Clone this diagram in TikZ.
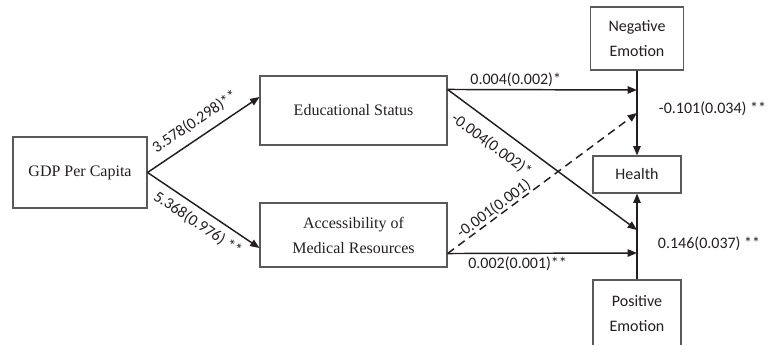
\documentclass[tikz,border=0pt]{standalone}
\usepackage{fontspec}
\setmainfont{Liberation Serif}
\newfontfamily\calfont{Carlito}
\usetikzlibrary{arrows.meta}
\definecolor{boxline}{HTML}{5A5A5A}
\definecolor{ink}{HTML}{231F20}
\tikzset{
  box/.style={draw=boxline, line width=0.8pt, inner sep=0pt, align=center, text=ink},
  serifbox/.style={box, font=\fontsize{12}{18.75}\selectfont},
  sansbox/.style={box, font=\calfont\fontsize{12}{18.75}\selectfont},
  arr/.style={draw=ink, line width=1.1pt, -{Triangle[length=7pt,width=5.5pt]}},
  lab/.style={font=\calfont\fontsize{12}{14}\selectfont, text=ink, inner sep=2pt},
}
\begin{document}
\begin{tikzpicture}[x=0.75pt,y=-0.75pt]
\useasboundingbox (0,0) rectangle (768,345);
% nodes
\node[serifbox, minimum width=100.5pt, minimum height=53.25pt] (gdp) at (80,172.5) {GDP Per Capita};
\node[serifbox, minimum width=140.25pt, minimum height=51.75pt] (edu) at (353.5,110.5) {Educational Status};
\node[serifbox, minimum width=140.25pt, minimum height=48pt] (acc) at (353.5,235) {Accessibility of\\Medical Resources};
\node[sansbox, minimum width=69.75pt, minimum height=47.25pt] (neg) at (637,38.5) {Negative\\Emotion};
\node[sansbox, minimum width=66pt, minimum height=27.75pt] (health) at (637,174.5) {Health};
\node[sansbox, minimum width=66pt, minimum height=50.25pt] (pos) at (637,313.5) {Positive\\Emotion};
% junction points on the vertical lines
\coordinate (n1) at (637,90);
\coordinate (n2) at (637,113);
\coordinate (p1) at (637,230);
\coordinate (p2) at (637,253);
\coordinate (eduout) at ([yshift=-10.5pt]edu.north east);
\coordinate (accout) at ([yshift=10.5pt]acc.south east);
% connectors
\draw[arr] (gdp.east) -- node[lab, sloped, above=4pt, pos=0.5] {3.578(0.298)**} ([yshift=10.125pt]edu.west);
\draw[arr] (gdp.east) -- node[lab, sloped, below=3pt, pos=0.52] {5.368(0.976) **} ([yshift=-9.75pt]acc.west);
\draw[arr] (eduout) -- node[lab, above, pos=0.36] {0.004(0.002)*} (n1);
\draw[arr] (eduout) -- node[lab, sloped, below=6pt, pos=0.29] {-0.004(0.002)*} (p1);
\draw[arr, dashed, dash pattern=on 6pt off 4pt] (accout) -- node[lab, sloped, above, pos=0.27, inner sep=0.5pt] {-0.001(0.001)} (n2);
\draw[arr] (accout) -- node[lab, below, pos=0.37] {0.002(0.001)**} (p2);
\draw[arr] (neg.south) -- (health.north);
\draw[arr] (pos.north) -- (health.south);
% coefficient labels
\node[lab, anchor=west] (negcoef) at (656,109) {-0.101(0.034) **};
\node[lab, anchor=west] (poscoef) at (655,244) {0.146(0.037) **};
\end{tikzpicture}
\end{document}
